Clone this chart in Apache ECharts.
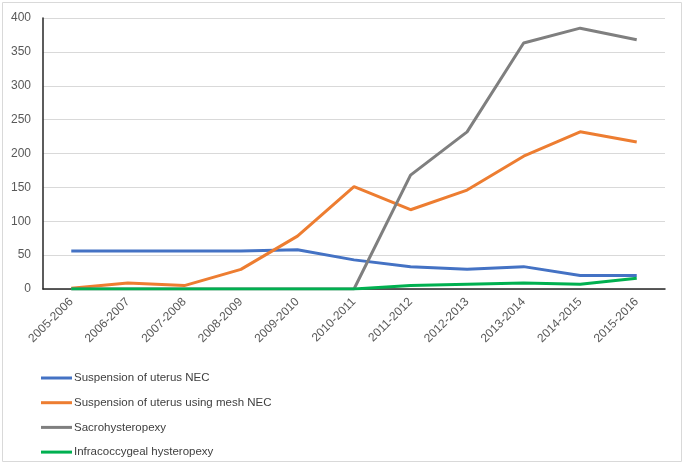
<!DOCTYPE html>
<html>
<head>
<meta charset="utf-8">
<script src="https://cdn.jsdelivr.net/npm/echarts@6/dist/echarts.min.js"></script>
<style>
html,body{margin:0;padding:0;background:#fff;}
#chart{width:685px;height:465px;}
</style>
</head>
<body>
<div id="chart"></div>
<script>
const categories = ['2005-2006','2006-2007','2007-2008','2008-2009','2009-2010','2010-2011','2011-2012','2012-2013','2013-2014','2014-2015','2015-2016'];
const suspensionNEC = [56, 56, 56, 56, 58, 43, 33, 29, 33, 20, 20];
const suspensionMesh = [1, 9, 5, 29, 78, 151, 117, 146, 196, 232, 217];
const sacrohysteropexy = [0, 0, 0, 0, 0, 0, 168, 232, 363, 385, 368];
const infracoccygeal = [0, 0, 0, 0, 0, 0, 5, 7, 9, 7, 16];
const seriesNames = ['Suspension of uterus NEC','Suspension of uterus using mesh NEC','Sacrohysteropexy','Infracoccygeal hysteropexy'];
const colors = ['#4472C4','#ED7D31','#7F7F7F','#00B050'];
const yTicks = {min: 0, max: 400, interval: 50};

const font = 'Liberation Sans';
const chart = echarts.init(document.getElementById('chart'), null, {renderer: 'canvas'});
const dataSets = [suspensionNEC, suspensionMesh, sacrohysteropexy, infracoccygeal];
chart.setOption({
  animation: false,
  color: colors,
  textStyle: {fontFamily: font},
  graphic: [{
    type: 'rect', silent: true, z: -1,
    shape: {x: 2.5, y: 2.5, width: 679, height: 459},
    style: {fill: 'none', stroke: '#d9d9d9', lineWidth: 1}
  }],
  grid: {left: 43, right: 20, top: 18, bottom: 176, containLabel: false},
  legend: {
    orient: 'vertical', left: 41, top: 372, itemGap: 12.7, padding: 0,
    itemWidth: 31, itemHeight: 3, icon: 'rect',
    textStyle: {fontSize: 11.5, color: '#404040', fontFamily: font, padding: [0,0,0,-3]},
    data: seriesNames
  },
  xAxis: {
    type: 'category', data: categories, boundaryGap: true,
    axisLine: {lineStyle: {color: '#262626', width: 1.5}},
    axisTick: {show: false},
    axisLabel: {rotate: 45, fontSize: 12, color: '#595959', margin: 11, interval: 0, fontFamily: font}
  },
  yAxis: {
    type: 'value', min: yTicks.min, max: yTicks.max, interval: yTicks.interval,
    axisLine: {show: true, lineStyle: {color: '#262626', width: 1.5}},
    axisTick: {show: false},
    axisLabel: {fontSize: 12, color: '#595959', margin: 12, fontFamily: font},
    splitLine: {lineStyle: {color: '#d9d9d9', width: 1}}
  },
  series: seriesNames.map((n, i) => ({
    name: n, type: 'line', data: dataSets[i], symbol: 'none',
    lineStyle: {width: 3, color: colors[i]}, itemStyle: {color: colors[i]}
  }))
});
</script>
</body>
</html>
